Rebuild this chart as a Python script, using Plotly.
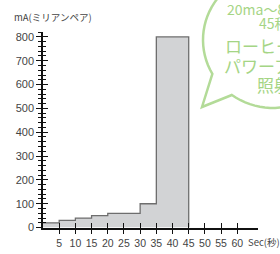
import math
import plotly.graph_objects as go

# ---- data ----
interval_starts = [0, 5, 10, 15, 20, 25, 30, 35, 40]
interval_end = 45
current_mA = [20, 30, 40, 50, 60, 60, 100, 800, 800]
x_ticks = [5, 10, 15, 20, 25, 30, 35, 40, 45, 50, 55, 60]
y_ticks = [0, 100, 200, 300, 400, 500, 600, 700, 800]

W, H = 280, 254
X0, X1 = 43, 258
Y0, Y1 = 233, 32
XR = [0, 66.4]
YR = [0, 820]

def px(x):
    return x / W

def py(y):
    return 1 - y / H

step_x = interval_starts + [interval_end]
step_y = current_mA + [0]

fig = go.Figure()
fig.add_trace(go.Scatter(
    x=step_x, y=step_y, mode="lines", line=dict(shape="hv", color="#6e6e6e", width=1.3),
    fill="tozeroy", fillcolor="#d2d3d5", hoverinfo="skip", showlegend=False))
# invisible trace for the overlay axes (inner tick halves)
fig.add_trace(go.Scatter(x=[0], y=[0], xaxis="x2", yaxis="y2", mode="markers",
                         marker=dict(opacity=0), hoverinfo="skip", showlegend=False))

tickfont = dict(family="Liberation Sans, Arial", size=11, color="#444")
dom_x = [px(X0), px(X1)]
dom_y = [py(Y0), py(Y1)]

fig.update_layout(
    width=W, height=H, margin=dict(l=0, r=0, t=0, b=0),
    paper_bgcolor="white", plot_bgcolor="white",
    xaxis=dict(domain=dom_x, range=XR, showgrid=False, zeroline=False,
               showline=True, linecolor="#111", linewidth=1.5,
               tickmode="array", tickvals=x_ticks, ticktext=[str(v) for v in x_ticks],
               ticks="outside", ticklen=5, tickwidth=1.2, tickcolor="#111",
               tickfont=dict(family="Liberation Sans, Arial", size=10.5, color="#444"),
               anchor="y"),
    yaxis=dict(domain=dom_y, range=YR, showgrid=False, zeroline=False,
               showline=True, linecolor="#111", linewidth=1.5,
               tickmode="array", tickvals=y_ticks, ticktext=[str(v) for v in y_ticks],
               ticks="outside", ticklen=5, tickwidth=1.2, tickcolor="#111",
               minor=dict(ticks="outside", ticklen=3, dtick=20, tick0=0, tickcolor="#111", tickwidth=1),
               tickfont=tickfont, anchor="x"),
    xaxis2=dict(domain=dom_x, range=XR, overlaying="x", anchor="y2", side="bottom",
                showgrid=False, zeroline=False, showline=False, showticklabels=False,
                tickmode="array", tickvals=x_ticks,
                ticks="inside", ticklen=5, tickwidth=1.2, tickcolor="#111"),
    yaxis2=dict(domain=dom_y, range=YR, overlaying="y", anchor="x2", side="left",
                showgrid=False, zeroline=False, showline=False, showticklabels=False,
                tickmode="array", tickvals=y_ticks,
                ticks="inside", ticklen=5, tickwidth=1.2, tickcolor="#111",
                minor=dict(ticks="inside", ticklen=3, dtick=20, tick0=0, tickcolor="#111", tickwidth=1)),
)

# axis titles
fig.add_annotation(text="mA(ミリアンペア)", xref="paper", yref="paper", x=px(12), y=py(16),
                   xanchor="left", yanchor="middle", showarrow=False,
                   font=dict(family="Noto Sans CJK JP", size=9.5, color="#444"))
fig.add_annotation(text="Sec(秒)", xref="paper", yref="paper", x=px(246), y=py(248),
                   xanchor="left", yanchor="middle", showarrow=False,
                   font=dict(family="Noto Sans CJK JP", size=9.5, color="#444"))

# speech bubble
green = "#b3db98"
cx, cy, r = 273, 40, 70
a_start, a_end = 126, 150 - 360
pts = []
n = 80
for i in range(n + 1):
    a = math.radians(a_start + (a_end - a_start) * i / n)
    pts.append((cx + r * math.cos(a), cy + r * math.sin(a)))
pts.append((202, 109))
path = "M " + " L ".join(f"{px(x):.5f},{py(y):.5f}" for x, y in pts) + " Z"
fig.add_shape(type="path", path=path, xref="paper", yref="paper",
              line=dict(color=green, width=2.5), fillcolor="white", layer="above")

tg = "#a5d585"
lines = [("20ma〜800ma", 225, 8, 14), ("45秒間", 257, 23, 14), ("ローヒート・", 223, 46, 17),
         ("パワーアップ", 222, 66, 17), ("照射", 255, 86, 17)]
for txt, xx, yy, fs in lines:
    fig.add_annotation(text=txt, xref="paper", yref="paper", x=px(xx), y=py(yy),
                       xanchor="left", yanchor="middle", showarrow=False,
                       font=dict(family="Noto Sans CJK JP", size=fs, color=tg))

fig.write_html("out.html", config={"displayModeBar": False},
               post_script="document.body.style.margin='0';document.body.style.overflow='hidden';")
